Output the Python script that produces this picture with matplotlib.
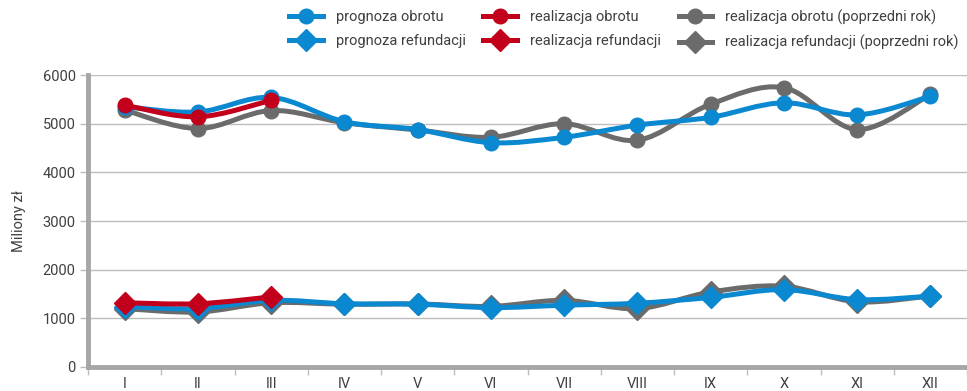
import matplotlib.pyplot as plt
from matplotlib.path import Path
from matplotlib.patches import PathPatch
from matplotlib.lines import Line2D
import numpy as np

plt.rcParams['font.family'] = ['Roboto', 'DejaVu Sans']

months = ['I', 'II', 'III', 'IV', 'V', 'VI', 'VII', 'VIII', 'IX', 'X', 'XI', 'XII']

# obrot (turnover), mln zl
prognoza_obrotu = [5350, 5240, 5540, 5040, 4880, 4610, 4720, 4970, 5130, 5430, 5180, 5560]
realizacja_obrotu = [5380, 5140, 5480]
obrot_poprzedni = [5280, 4900, 5270, 5020, 4870, 4720, 5000, 4660, 5400, 5740, 4880, 5600]

# refundacja, mln zl
prognoza_refundacji = [1240, 1200, 1370, 1300, 1290, 1220, 1270, 1310, 1430, 1590, 1385, 1455]
realizacja_refundacji = [1320, 1300, 1440]
refundacja_poprzedni = [1200, 1130, 1320, 1290, 1295, 1245, 1370, 1200, 1540, 1660, 1340, 1460]

c_blue = '#0a88d0'
c_red = '#c2001b'
c_gray = '#6b6b6b'
axis_gray = '#a6a6a6'
text_col = '#404040'


def smooth_line(ax, xs, ys, color, lw=4.0, z=2):
    # cubic bezier through the points (catmull-rom tangents), like excel "smoothed line"
    pts = np.column_stack([xs, ys]).astype(float)
    n = len(pts)
    verts = [pts[0]]
    codes = [Path.MOVETO]
    for i in range(n - 1):
        p0 = pts[i - 1] if i > 0 else pts[i]
        p1 = pts[i]
        p2 = pts[i + 1]
        p3 = pts[i + 2] if i + 2 < n else pts[i + 1]
        verts += [p1 + (p2 - p0) / 6, p2 - (p3 - p1) / 6, p2]
        codes += [Path.CURVE4] * 3
    patch = PathPatch(Path(verts, codes), fill=False, edgecolor=color, lw=lw,
                      capstyle='round', joinstyle='round', zorder=z)
    ax.add_patch(patch)


fig = plt.figure(figsize=(9.67, 3.91), dpi=100)
ax = fig.add_axes([88 / 967, 1 - 367 / 391, 1 - 88 / 967, (367 - 75) / 391])

x = np.arange(len(months))
x3 = x[:len(realizacja_obrotu)]

series = [
    (obrot_poprzedni, x, c_gray, 'o', 3),
    (refundacja_poprzedni, x, c_gray, 'D', 3),
    (prognoza_obrotu, x, c_blue, 'o', 5),
    (prognoza_refundacji, x, c_blue, 'D', 5),
    (realizacja_obrotu, x3, c_red, 'o', 7),
    (realizacja_refundacji, x3, c_red, 'D', 7),
]
for vals, xx, col, mk, z in series:
    smooth_line(ax, xx, vals, col, lw=3.6, z=z)
    ax.plot(xx, vals, linestyle='none', marker=mk, color=col,
            markersize=10.5 if mk == 'o' else 11, zorder=z + 1)

ax.set_xlim(-0.5, len(months) - 0.5)
ax.set_ylim(0, 6000)
ax.set_yticks(range(0, 6001, 1000))
ax.set_xticks(x)
ax.set_xticklabels(months)
ax.set_xticks(np.arange(-0.5, len(months), 1), minor=True)

ax.grid(axis='y', color='#bdbdbd', lw=1.0, zorder=0)
ax.set_axisbelow(True)
for s in ['top', 'right']:
    ax.spines[s].set_visible(False)
for s in ['left', 'bottom']:
    ax.spines[s].set_color(axis_gray)
    ax.spines[s].set_linewidth(3.5)

ax.tick_params(axis='x', which='major', length=0, pad=7, labelsize=10.5, labelcolor=text_col)
ax.tick_params(axis='x', which='minor', length=6, width=1, color='#bdbdbd')
ax.tick_params(axis='y', length=6, width=1, color='#bdbdbd', labelsize=10.5,
               labelcolor=text_col, pad=3)
ax.set_ylabel('Miliony zł', fontsize=10.5, color=text_col, labelpad=12)

handles = [
    Line2D([], [], color=c_blue, lw=3.6, marker='o', markersize=10.5),
    Line2D([], [], color=c_blue, lw=3.6, marker='D', markersize=11),
    Line2D([], [], color=c_red, lw=3.6, marker='o', markersize=10.5),
    Line2D([], [], color=c_red, lw=3.6, marker='D', markersize=11),
    Line2D([], [], color=c_gray, lw=3.6, marker='o', markersize=10.5),
    Line2D([], [], color=c_gray, lw=3.6, marker='D', markersize=11),
]
labels = ['prognoza obrotu', 'prognoza refundacji',
          'realizacja obrotu', 'realizacja refundacji',
          'realizacja obrotu (poprzedni rok)', 'realizacja refundacji (poprzedni rok)']
fig.legend(handles, labels, ncol=3, loc='upper right', bbox_to_anchor=(1.005, 1.01),
           frameon=False, fontsize=10.5, handlelength=2.3, handletextpad=0.9,
           columnspacing=1.2, labelspacing=0.7, labelcolor=text_col)

fig.savefig('out.png', dpi=100)
